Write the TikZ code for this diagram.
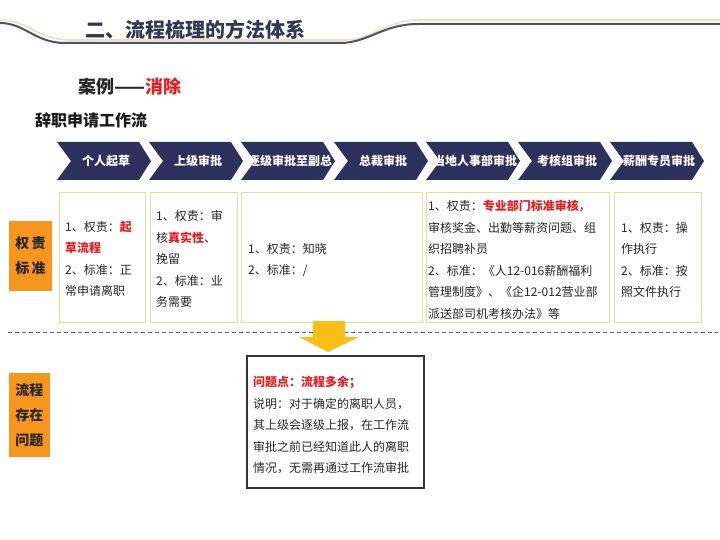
\documentclass[tikz,border=0pt]{standalone}
\usepackage{fontspec}
\setmainfont{Noto Sans CJK SC}
\definecolor{navy}{RGB}{46,49,94}
\definecolor{titlec}{RGB}{52,54,84}
\definecolor{goldl}{RGB}{238,226,176}
\definecolor{boxb}{RGB}{228,222,160}
\definecolor{redc}{RGB}{232,28,32}
\definecolor{orangec}{RGB}{247,150,30}
\definecolor{arrowc}{RGB}{250,190,20}
\definecolor{txt}{RGB}{40,40,40}
\newcommand{\rd}[1]{\textcolor{redc}{\bfseries #1}}
\tikzset{
  chev/.style={fill=navy, draw=none},
  chevtext/.style={text=white, font=\bfseries\fontsize{12}{14}\selectfont, inner sep=0pt},
  infobox/.style={draw=boxb, line width=1.2pt, fill=white},
  boxtext/.style={anchor=west, inner sep=0pt, align=left, text=txt, font=\fontsize{12}{21.5}\selectfont},
  orangelab/.style={fill=orangec, inner sep=0pt, align=center, text=black!85, font=\bfseries\fontsize{14}{25}\selectfont},
}
\begin{document}
\begin{tikzpicture}[x=1pt,y=-1pt]
\useasboundingbox (0,0) rectangle (720,540);
\fill[white] (0,0) rectangle (720,540);
% header lines
\draw[goldl, line width=1.6pt] (0,20) .. controls (28,20) and (38,40) .. (70,40) -- (345,40) .. controls (372,40) and (386,20) .. (420,20) -- (720,20);
\draw[navy!85, line width=2pt] (0,23) .. controls (25,23) and (35,43) .. (65,43) -- (340,43) .. controls (368,43) and (383,24) .. (418,24) -- (720,24);
\node[text=titlec, font=\bfseries\fontsize{20}{22}\selectfont, inner sep=0pt] (title) at (195,30) {二、流程梳理的方法体系};
\node[font=\bfseries\fontsize{18}{20}\selectfont, inner sep=0pt, anchor=west, text=black!85] (case) at (78,87) {案例——\textcolor{redc}{消除}};
\node[font=\bfseries\fontsize{16}{18}\selectfont, inner sep=0pt, anchor=west, text=black!90] (flow) at (35,120) {辞职申请工作流};
% chevrons
\foreach \i/\xs/\lab in {1/57/个人起草, 2/149/上级审批, 3/241/逐级审批至副总, 4/334/总裁审批, 5/426/当地人事部审批, 6/518/考核组审批, 7/610/薪酬专员审批}{
  \fill[chev] (\xs,142) -- ({\xs+82},142) -- ({\xs+94},161) -- ({\xs+82},180) -- (\xs,180) -- ({\xs+14},161) -- cycle;
  \node[chevtext] (c\i) at ({\xs+49},161) {\lab};
}
% boxes
\node[infobox, minimum width=86pt, minimum height=130pt, anchor=north west, inner sep=0pt] (b1) at (59,192) {};
\node[infobox, minimum width=87pt, minimum height=130pt, anchor=north west, inner sep=0pt] (b2) at (150,192) {};
\node[infobox, minimum width=181pt, minimum height=130pt, anchor=north west, inner sep=0pt] (b3) at (241,192) {};
\node[infobox, minimum width=183pt, minimum height=130pt, anchor=north west, inner sep=0pt] (b4) at (426,192) {};
\node[infobox, minimum width=87pt, minimum height=130pt, anchor=north west, inner sep=0pt] (b5) at (614,192) {};
\node[boxtext] (t1) at (65,259) {1、权责：\rd{起}\\\rd{草流程}\\2、标准：正\\常申请离职};
\node[boxtext] (t2) at (156,259) {1、权责：审\\核\rd{真实性}、\\挽留\\2、标准：业\\务需要};
\node[boxtext] (t3) at (248,260) {1、权责：知晓\\2、标准：/};
\node[boxtext] (t4) at (428,260) {1、权责：\rd{专业部门标准审核}，\\审核奖金、出勤等薪资问题、组\\织招聘补员\\2、标准：《人12-016薪酬福利\\管理制度》、《企12-012营业部\\派送部司机考核办法》等};
\node[boxtext] (t5) at (621,260) {1、权责：操\\作执行\\2、标准：按\\照文件执行};
% orange labels
\node[orangelab, minimum width=43pt, minimum height=70pt] (lab1) at (30.5,256) {权\,责\\标\,准};
\node[orangelab, minimum width=41pt, minimum height=84pt, font=\bfseries\fontsize{14}{25}\selectfont] (lab2) at (29.5,415) {流程\\存在\\问题};
% dashed separator
\coordinate (dl) at (8,332);
\coordinate (dr) at (718,332);
\draw[gray!80!black, line width=0.8pt, dash pattern=on 4pt off 3pt] (dl) -- (dr);
% arrow
\fill[arrowc] (313,321) -- (345,321) -- (345,337) -- (359,337) -- (328,352) -- (299,337) -- (313,337) -- cycle;
\coordinate (arrowtip) at (328,352);
% problem box
\node[draw=black!80, line width=1.8pt, fill=white, minimum width=177pt, minimum height=132pt, anchor=north west, inner sep=0pt] (pb) at (246,355) {};
\node[boxtext] (pt) at (253,425) {\textcolor{redc}{\bfseries 问题点：流程多余；}\\说明：对于确定的离职人员，\\其上级会逐级上报，在工作流\\审批之前已经知道此人的离职\\情况，无需再通过工作流审批};
\end{tikzpicture}
\end{document}
